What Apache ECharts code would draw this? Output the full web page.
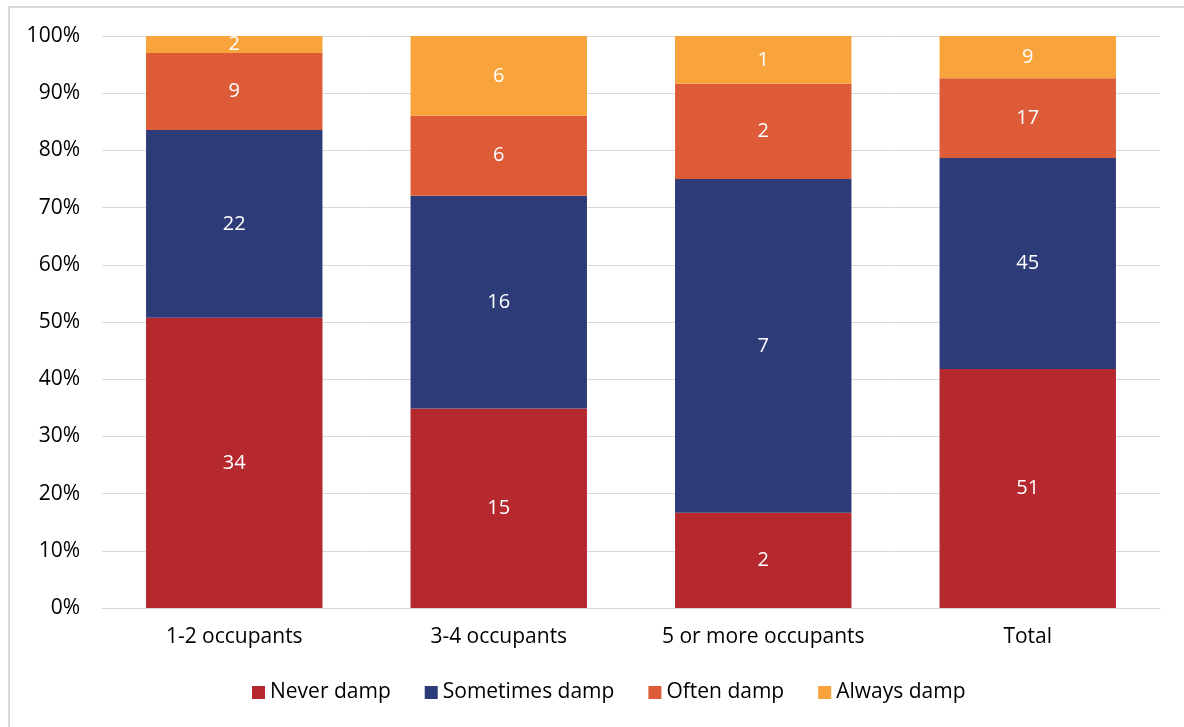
<!DOCTYPE html>
<html><head><meta charset="utf-8">
<script src="https://cdn.jsdelivr.net/npm/echarts@6/dist/echarts.min.js"></script>
<style>html,body{margin:0;padding:0;background:#fff}#c{width:1184px;height:727px}
#frame{position:absolute;left:8px;top:6px;width:1190px;height:740px;border:2px solid #d9d9d9;box-sizing:border-box;pointer-events:none}</style>
</head><body><div id="c"></div><div id="frame"></div>
<script>
const categories = ['1-2 occupants', '3-4 occupants', '5 or more occupants', 'Total'];
const neverDamp = [34, 15, 2, 51];
const sometimesDamp = [22, 16, 7, 45];
const oftenDamp = [9, 6, 2, 17];
const alwaysDamp = [2, 6, 1, 9];
const yTicks = ['0%','10%','20%','30%','40%','50%','60%','70%','80%','90%','100%'];

const seriesDefs = [
  {name: 'Never damp', data: neverDamp, color: '#B4282E'},
  {name: 'Sometimes damp', data: sometimesDamp, color: '#2E3B79'},
  {name: 'Often damp', data: oftenDamp, color: '#DD5B37'},
  {name: 'Always damp', data: alwaysDamp, color: '#F8A33B'}
];
const totals = categories.map((_, i) => seriesDefs.reduce((s, d) => s + d.data[i], 0));
const font = '"Open Sans", sans-serif';
const fs = 21;

const chart = echarts.init(document.getElementById('c'));
chart.setOption({
  animation: false,
  textStyle: {fontFamily: font},
  grid: {left: 102, right: 24, top: 36, bottom: 119},
  legend: {
    bottom: 19, left: 247, itemWidth: 13, itemHeight: 13, itemGap: 34,
    icon: 'rect',
    textStyle: {fontSize: fs, color: '#000', fontFamily: font, padding: [0,0,0,0]},
    data: seriesDefs.map(d => d.name)
  },
  xAxis: {
    type: 'category', data: categories,
    axisLine: {lineStyle: {color: '#d9d9d9', width: 1}},
    axisTick: {show: false},
    axisLabel: {fontSize: fs, color: '#000', margin: 19, fontFamily: font}
  },
  yAxis: {
    type: 'value', min: 0, max: 100, interval: 10,
    axisLine: {show: false}, axisTick: {show: false},
    splitLine: {lineStyle: {color: '#d9d9d9', width: 1}},
    axisLabel: {fontSize: fs, color: '#000', margin: 22, fontFamily: font,
      formatter: v => yTicks[Math.round(v / 10)]}
  },
  series: seriesDefs.map(d => ({
    name: d.name, type: 'bar', stack: 'all', barWidth: '66.7%',
    itemStyle: {color: d.color},
    data: d.data.map((v, i) => ({value: v / totals[i] * 100, count: v})),
    label: {show: true, position: 'inside', color: '#fff', fontSize: 20, fontFamily: font,
      formatter: p => d.data[p.dataIndex]}
  }))
});
</script></body></html>
